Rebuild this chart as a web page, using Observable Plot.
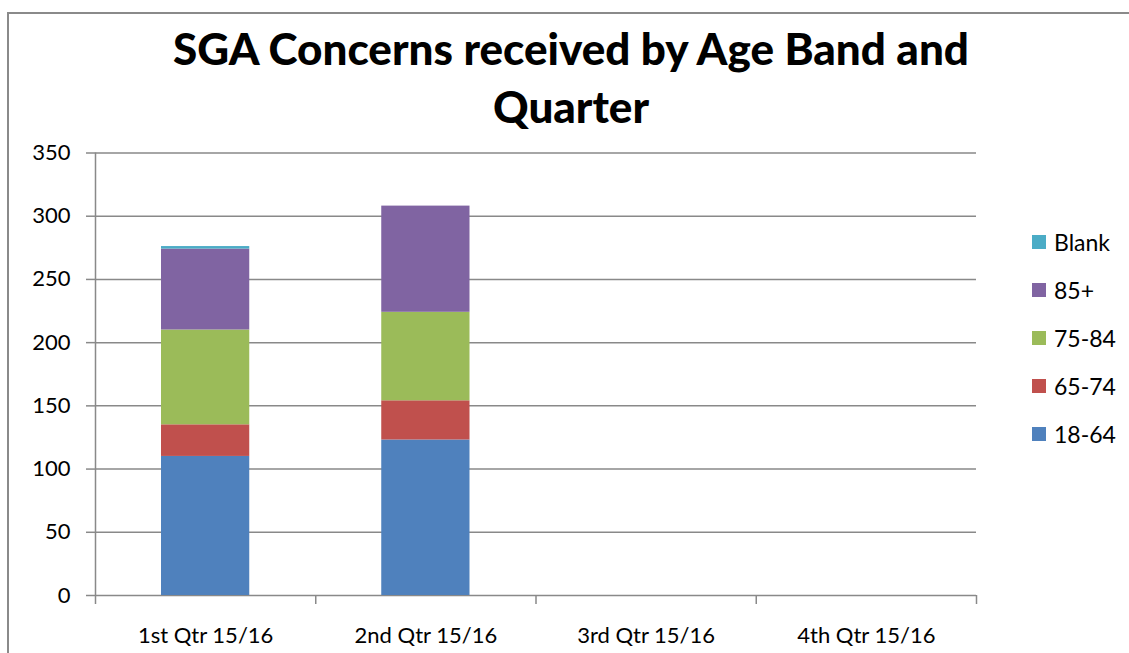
<!DOCTYPE html>
<html>
<head>
<meta charset="utf-8">
<script src="https://cdn.jsdelivr.net/npm/d3@7"></script>
<script src="https://cdn.jsdelivr.net/npm/@observablehq/plot@0.6"></script>
<style>
  body { margin: 0; background: #fff; }
  #wrap { position: relative; width: 1129px; height: 653px; overflow: hidden; font-family: Lato, sans-serif; }
  #frame { position: absolute; left: 7px; top: 12px; width: 1200px; height: 700px; border-left: 2px solid #8a8a8a; border-top: 2px solid #8a8a8a; box-sizing: border-box; }
  #title { position: absolute; left: 0; width: 1142px; top: 19px; text-align: center; font-weight: 900; font-size: 44px; line-height: 58px; color: #000; }
  #chart { position: absolute; left: 0; top: 0; }
  .lg { position: absolute; left: 1032px; height: 48px; display: flex; align-items: center; font-size: 23px; color: #000; }
  .sw { width: 14px; height: 14px; margin-right: 8px; }
</style>
</head>
<body>
<div id="wrap">
  <div id="frame"></div>
  <div id="chart"></div>
  <div id="title"></div>
  <div id="legend"></div>
</div>
<script>
const title = ["SGA Concerns received by Age Band and", "Quarter"];
const quarters = ["1st Qtr 15/16", "2nd Qtr 15/16", "3rd Qtr 15/16", "4th Qtr 15/16"];
const bands = ["18-64", "65-74", "75-84", "85+", "Blank"];
const colors = ["#4F81BD", "#C0504D", "#9BBB59", "#8064A2", "#4BACC6"];
const v18_64 = [110, 123, 0, 0];
const v65_74 = [25, 31, 0, 0];
const v75_84 = [75, 70, 0, 0];
const v85plus = [64, 84, 0, 0];
const vBlank = [2, 0, 0, 0];
const yTicks = [0, 50, 100, 150, 200, 250, 300, 350];

const series = [v18_64, v65_74, v75_84, v85plus, vBlank];
const rows = [];
bands.forEach((b, bi) => quarters.forEach((q, qi) => rows.push({quarter: q, band: b, value: series[bi][qi]})));

const W = 1129, H = 653;
const mL = 95, mR = 153, mT = 152.5, mB = 58;
const bw = (W - mL - mR) / quarters.length;
const grey = "#898989";

const chart = Plot.plot({
  width: W, height: H,
  marginLeft: mL, marginRight: mR, marginTop: mT, marginBottom: mB,
  x: {domain: quarters, padding: 0, round: false, axis: null, label: null},
  y: {domain: [0, 350], axis: null, label: null},
  color: {domain: bands, range: colors},
  style: {fontFamily: "Lato, sans-serif", fontSize: "22px", color: "#000", background: "transparent"},
  marks: [
    Plot.gridY(yTicks, {stroke: grey, strokeOpacity: 1, strokeWidth: 1.5}),
    Plot.barY(rows, {x: "quarter", y: "value", fill: "band", order: bands, insetLeft: 66, insetRight: 66}),
    Plot.ruleX([quarters[0]], {y1: 0, y2: 350, dx: -bw / 2, stroke: grey, strokeWidth: 1.5}),
    Plot.axisY(yTicks, {tickSize: 9, tickPadding: 16, stroke: grey, strokeWidth: 1.5, fill: "#000", fontSize: 22, label: null}),
    Plot.axisX(quarters, {tickSize: 9, dx: -bw / 2, stroke: grey, strokeWidth: 1.5, tickFormat: () => "", label: null}),
    Plot.axisX([quarters[quarters.length - 1]], {tickSize: 9, dx: bw / 2, stroke: grey, strokeWidth: 1.5, tickFormat: () => "", label: null}),
    Plot.axisX(quarters, {tickSize: 0, tickPadding: 32, fill: "#000", fontSize: 22, label: null})
  ]
});
document.getElementById("chart").appendChild(chart);

document.getElementById("title").innerHTML = title.join("<br>");

const legendCenters = [241.5, 289.5, 337.5, 385.8, 434];
const legendOrder = bands.slice().reverse();
const lg = document.getElementById("legend");
legendOrder.forEach((b, i) => {
  const row = document.createElement("div");
  row.className = "lg";
  row.style.top = (legendCenters[i] - 24) + "px";
  const sw = document.createElement("div");
  sw.className = "sw";
  sw.style.background = colors[bands.indexOf(b)];
  const t = document.createElement("span");
  t.textContent = b;
  row.appendChild(sw); row.appendChild(t);
  lg.appendChild(row);
});
</script>
</body>
</html>
